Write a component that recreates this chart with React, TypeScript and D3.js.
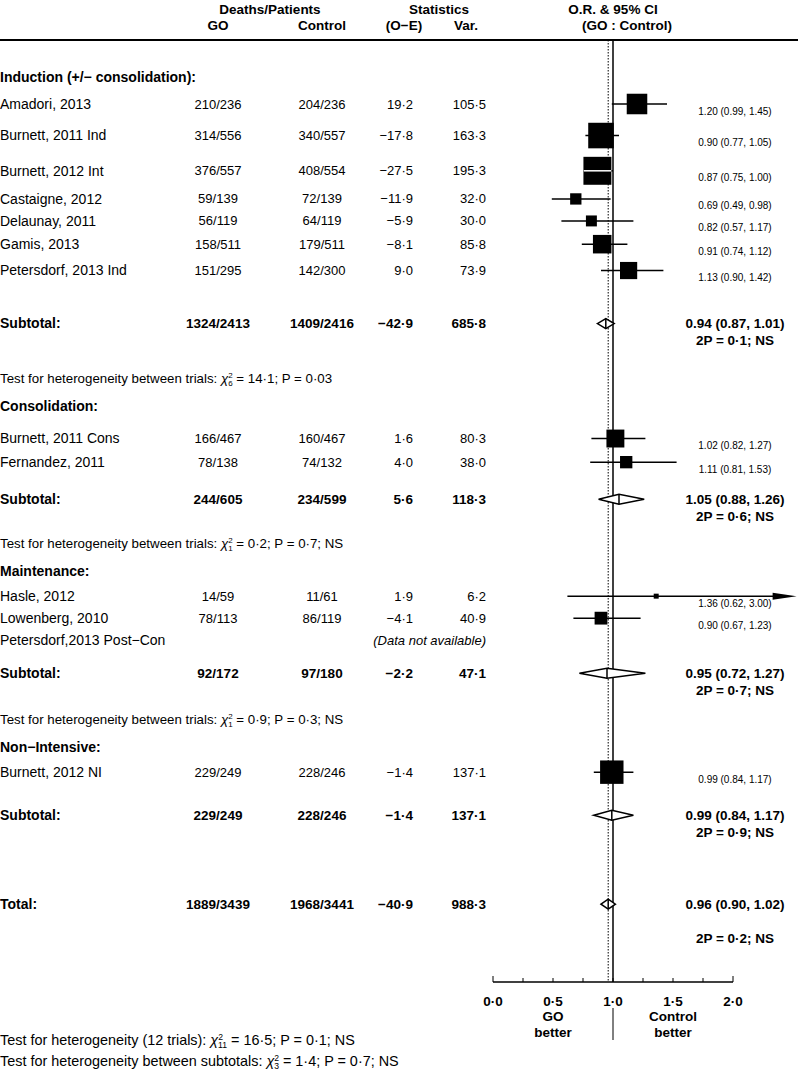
import React from 'react';
import * as d3 from 'd3';

// ---- data ----
const groupNames = ['Induction (+/− consolidation):', 'Consolidation:', 'Maintenance:', 'Non−Intensive:'];

const trialNames = [
  'Amadori, 2013', 'Burnett, 2011 Ind', 'Burnett, 2012 Int', 'Castaigne, 2012', 'Delaunay, 2011',
  'Gamis, 2013', 'Petersdorf, 2013 Ind',
  'Burnett, 2011 Cons', 'Fernandez, 2011',
  'Hasle, 2012', 'Lowenberg, 2010', 'Petersdorf,2013 Post−Con',
  'Burnett, 2012 NI'
];
const trialGroup = [0, 0, 0, 0, 0, 0, 0, 1, 1, 2, 2, 2, 3];
const goDeaths = [210, 314, 376, 59, 56, 158, 151, 166, 78, 14, 78, null, 229];
const goPatients = [236, 556, 557, 139, 119, 511, 295, 467, 138, 59, 113, null, 249];
const ctrlDeaths = [204, 340, 408, 72, 64, 179, 142, 160, 74, 11, 86, null, 228];
const ctrlPatients = [236, 557, 554, 139, 119, 511, 300, 467, 132, 61, 119, null, 246];
const oMinusE = [19.2, -17.8, -27.5, -11.9, -5.9, -8.1, 9.0, 1.6, 4.0, 1.9, -4.1, null, -1.4];
const variance = [105.5, 163.3, 195.3, 32.0, 30.0, 85.8, 73.9, 80.3, 38.0, 6.2, 40.9, null, 137.1];
const orEst = [1.20, 0.90, 0.87, 0.69, 0.82, 0.91, 1.13, 1.02, 1.11, 1.36, 0.90, null, 0.99];
const orLo = [0.99, 0.77, 0.75, 0.49, 0.57, 0.74, 0.90, 0.82, 0.81, 0.62, 0.67, null, 0.84];
const orHi = [1.45, 1.05, 1.00, 0.98, 1.17, 1.12, 1.42, 1.27, 1.53, 3.00, 1.23, null, 1.17];

const subGo = ['1324/2413', '244/605', '92/172', '229/249'];
const subCtrl = ['1409/2416', '234/599', '97/180', '228/246'];
const subOE = [-42.9, 5.6, -2.2, -1.4];
const subVar = [685.8, 118.3, 47.1, 137.1];
const subOR = [0.94, 1.05, 0.95, 0.99];
const subLo = [0.87, 0.88, 0.72, 0.84];
const subHi = [1.01, 1.26, 1.27, 1.17];
const subP = [0.1, 0.6, 0.7, 0.9];

const hetDf = [6, 1, 1];
const hetChi = [14.1, 0.2, 0.9];
const hetP = [0.03, 0.7, 0.3];
const hetNS = [false, true, true];

const totalGo = '1889/3439';
const totalCtrl = '1968/3441';
const totalOE = -40.9;
const totalVar = 988.3;
const totalOR = [0.96, 0.90, 1.02];
const totalP = 0.2;

const axisTicks = [0, 0.5, 1, 1.5, 2];
const footerTests = [
  { label: 'Test for heterogeneity (12 trials): ', df: 11, chi: 16.5, p: 0.1 },
  { label: 'Test for heterogeneity between subtotals: ', df: 3, chi: 1.4, p: 0.7 }
];

// ---- layout ----
const W = 798, H = 1072;
const FONT = '"Liberation Sans", Arial, Helvetica, sans-serif';
const colName = 0, colGo = 218, colCtrl = 322, colOE = 413, colVar = 486, colLab = 735;
const headerGap = [27, 32, 25, 25];
const subGap = [53, 37, 33, 43];
const testGap = [55, 44, 46];
const topY = 40, firstGroupY = 77, nextGroupGap = 28, totalGap = 89, axisY = 982;
const nameSize = 14, numSize = 13;

const dot = (s: string) => s.replace(/\./g, '·').replace(/-/g, '−');
const f1 = (v: number) => dot(d3.format('.1f')(v));
const f2 = d3.format('.2f');
const fp = (v: number) => dot(String(v));

const x = d3.scaleLinear().domain([0, 2]).range([493, 733]);
const boxSize = d3.scaleSqrt().domain([0, 100]).range([0, 20]);
const arrowMax = 2.53;

// walk rows to get vertical positions
const groupY: number[] = [];
const trialY: number[] = [];
const subY: number[] = [];
const testY: number[] = [];
let y = firstGroupY;
groupNames.forEach((_, g) => {
  groupY[g] = y;
  y += headerGap[g];
  const idx = trialGroup.map((tg, i) => (tg === g ? i : -1)).filter((i) => i >= 0);
  idx.forEach((i, k) => {
    trialY[i] = y;
    if (k < idx.length - 1) {
      const s1 = variance[i] ? boxSize(variance[i]!) : 0;
      const s2 = variance[idx[k + 1]] ? boxSize(variance[idx[k + 1]]!) : 0;
      y += Math.max(22, (s1 + s2) / 2 + 8.5);
    }
  });
  subY[g] = y + subGap[g];
  if (g < testGap.length) {
    testY[g] = subY[g] + testGap[g];
    y = testY[g] + nextGroupGap;
  }
});
const totalY = subY[subY.length - 1] + totalGap;

const Chi = ({ df, chi, p, ns, yy, label, size }: any) => (
  <text x={colName} y={yy} dy="0.35em" fontSize={size}>
    {label}
    <tspan fontStyle="italic">χ</tspan>
    <tspan fontSize={size * 0.6} dy={-5}>2</tspan>
    <tspan fontSize={size * 0.6} dx={-size * 0.34} dy={8}>{df}</tspan>
    <tspan dy={-3}>{` = ${f1(chi)}; P = ${fp(p)}${ns ? '; NS' : ''}`}</tspan>
  </text>
);

const Diamond = ({ lo, est, hi, yy }: any) => {
  const h = 5;
  const path = d3.path();
  path.moveTo(x(lo), yy);
  path.lineTo(x(est), yy - h);
  path.lineTo(x(hi), yy);
  path.lineTo(x(est), yy + h);
  path.closePath();
  return (
    <g>
      <path d={path.toString()} fill="white" stroke="black" strokeWidth={1.5} />
      <line x1={x(est)} x2={x(est)} y1={yy - h} y2={yy + h} stroke="black" strokeWidth={1.5} />
    </g>
  );
};

const App = () => {
  const minorTicks = d3.range(0, 2.001, 0.25);
  return (
    <svg width={W} height={H} style={{ position: 'absolute', left: 0, top: 0 }} fontFamily={FONT}>
      <rect width={W} height={H} fill="white" />
      {/* headers */}
      <g fontWeight="bold" fontSize={13.5} textAnchor="middle">
        <text x={270} y={9} dy="0.35em">Deaths/Patients</text>
        <text x={colGo} y={25} dy="0.35em">GO</text>
        <text x={colCtrl} y={25} dy="0.35em">Control</text>
        <text x={439} y={9} dy="0.35em">Statistics</text>
        <text x={404} y={25} dy="0.35em">(O−E)</text>
        <text x={466} y={25} dy="0.35em">Var.</text>
        <text x={613} y={9} dy="0.35em">O.R. &amp; 95% CI</text>
        <text x={627} y={25} dy="0.35em">(GO : Control)</text>
      </g>
      <line x1={0} x2={W} y1={topY} y2={topY} stroke="black" strokeWidth={2} />

      {/* reference lines */}
      <line x1={x(1)} x2={x(1)} y1={topY} y2={axisY} stroke="black" strokeWidth={1.5} />
      <line x1={x(totalOR[0])} x2={x(totalOR[0])} y1={topY} y2={axisY} stroke="black" strokeWidth={1} strokeDasharray="1.5,1.5" />

      {/* groups */}
      {groupNames.map((name, g) => (
        <g key={name}>
          <text x={colName} y={groupY[g]} dy="0.35em" fontWeight="bold" fontSize={nameSize}>{name}</text>
          <g fontWeight="bold" fontSize={numSize + 0.5}>
            <text x={colName} y={subY[g]} dy="0.35em" fontSize={nameSize}>Subtotal:</text>
            <text x={colGo} y={subY[g]} dy="0.35em" textAnchor="middle">{subGo[g]}</text>
            <text x={colCtrl} y={subY[g]} dy="0.35em" textAnchor="middle">{subCtrl[g]}</text>
            <text x={colOE} y={subY[g]} dy="0.35em" textAnchor="end">{f1(subOE[g])}</text>
            <text x={colVar} y={subY[g]} dy="0.35em" textAnchor="end">{f1(subVar[g])}</text>
            <text x={colLab} y={subY[g]} dy="0.35em" textAnchor="middle">{`${f2(subOR[g])} (${f2(subLo[g])}, ${f2(subHi[g])})`}</text>
            <text x={colLab} y={subY[g] + 17} dy="0.35em" textAnchor="middle">{`2P = ${fp(subP[g])}; NS`}</text>
          </g>
          <Diamond lo={subLo[g]} est={subOR[g]} hi={subHi[g]} yy={subY[g]} />
          {g < hetDf.length && (
            <Chi label="Test for heterogeneity between trials: " df={hetDf[g]} chi={hetChi[g]} p={hetP[g]} ns={hetNS[g]} yy={testY[g]} size={13.3} />
          )}
        </g>
      ))}

      {/* trials */}
      {trialNames.map((name, i) => {
        const yy = trialY[i];
        const hasData = orEst[i] != null;
        const s = hasData ? boxSize(variance[i]!) : 0;
        const lo = hasData ? x(orLo[i]!) : 0;
        const hiClipped = hasData && orHi[i]! > arrowMax;
        const hi = hasData ? x(Math.min(orHi[i]!, arrowMax)) : 0;
        const cx = hasData ? x(orEst[i]!) : 0;
        const whiteInside = hasData && hi - lo < s * 1.15;
        return (
          <g key={name} fontSize={numSize}>
            <text x={colName} y={yy} dy="0.35em" fontSize={nameSize}>{name}</text>
            {hasData ? (
              <>
                <text x={colGo} y={yy} dy="0.35em" textAnchor="middle">{`${goDeaths[i]}/${goPatients[i]}`}</text>
                <text x={colCtrl} y={yy} dy="0.35em" textAnchor="middle">{`${ctrlDeaths[i]}/${ctrlPatients[i]}`}</text>
                <text x={colOE} y={yy} dy="0.35em" textAnchor="end">{f1(oMinusE[i]!)}</text>
                <text x={colVar} y={yy} dy="0.35em" textAnchor="end">{f1(variance[i]!)}</text>
                <line x1={lo} x2={hiClipped ? hi - 20 : hi} y1={yy} y2={yy} stroke="black" strokeWidth={1.5} />
                {hiClipped && (
                  <path d={`M${hi},${yy}L${hi - 24},${yy - 3.5}L${hi - 24},${yy + 3.5}Z`} fill="black" />
                )}
                <rect x={cx - s / 2} y={yy - s / 2} width={s} height={s} fill="black" />
                {whiteInside && (
                  <line x1={cx - s / 2} x2={cx + s / 2} y1={yy} y2={yy} stroke="white" strokeWidth={1.5} />
                )}
                <text x={colLab} y={yy + 7} dy="0.35em" fontSize={10} textAnchor="middle">
                  {`${f2(orEst[i]!)} (${f2(orLo[i]!)}, ${f2(orHi[i]!)})`}
                </text>
              </>
            ) : (
              <text x={colVar} y={yy} dy="0.35em" textAnchor="end" fontStyle="italic">(Data not available)</text>
            )}
          </g>
        );
      })}

      {/* total */}
      <g fontSize={numSize + 0.5} fontWeight="bold">
        <text x={colName} y={totalY} dy="0.35em" fontSize={nameSize}>Total:</text>
        <text x={colGo} y={totalY} dy="0.35em" textAnchor="middle">{totalGo}</text>
        <text x={colCtrl} y={totalY} dy="0.35em" textAnchor="middle">{totalCtrl}</text>
        <text x={colOE} y={totalY} dy="0.35em" textAnchor="end">{f1(totalOE)}</text>
        <text x={colVar} y={totalY} dy="0.35em" textAnchor="end">{f1(totalVar)}</text>
        <text x={colLab} y={totalY} dy="0.35em" textAnchor="middle">{`${f2(totalOR[0])} (${f2(totalOR[1])}, ${f2(totalOR[2])})`}</text>
        <text x={colLab} y={totalY + 34} dy="0.35em" textAnchor="middle">{`2P = ${fp(totalP)}; NS`}</text>
      </g>
      <Diamond lo={totalOR[1]} est={totalOR[0]} hi={totalOR[2]} yy={totalY} />

      {/* axis */}
      <line x1={x(0)} x2={x(2)} y1={axisY} y2={axisY} stroke="black" strokeWidth={1.5} />
      {minorTicks.map((t) => (
        <line key={t} x1={x(t)} x2={x(t)} y1={axisY} y2={axisY - (t === 0 || t === 2 ? 6 : 4)} stroke="black" strokeWidth={1} />
      ))}
      <g fontSize={13.5} fontWeight="bold" textAnchor="middle">
        {axisTicks.map((t) => (
          <text key={t} x={x(t)} y={1001} dy="0.35em">{f1(t)}</text>
        ))}
        <text x={x(0.5)} y={1016} dy="0.35em">GO</text>
        <text x={x(0.5)} y={1032} dy="0.35em">better</text>
        <text x={x(1.5)} y={1016} dy="0.35em">Control</text>
        <text x={x(1.5)} y={1032} dy="0.35em">better</text>
      </g>
      <line x1={x(1)} x2={x(1)} y1={1008} y2={1040} stroke="black" strokeWidth={1} />

      {footerTests.map((t, k) => (
        <Chi key={k} label={t.label} df={t.df} chi={t.chi} p={t.p} ns={true} yy={1040 + k * 21} size={14.4} />
      ))}
    </svg>
  );
};

export default App;
